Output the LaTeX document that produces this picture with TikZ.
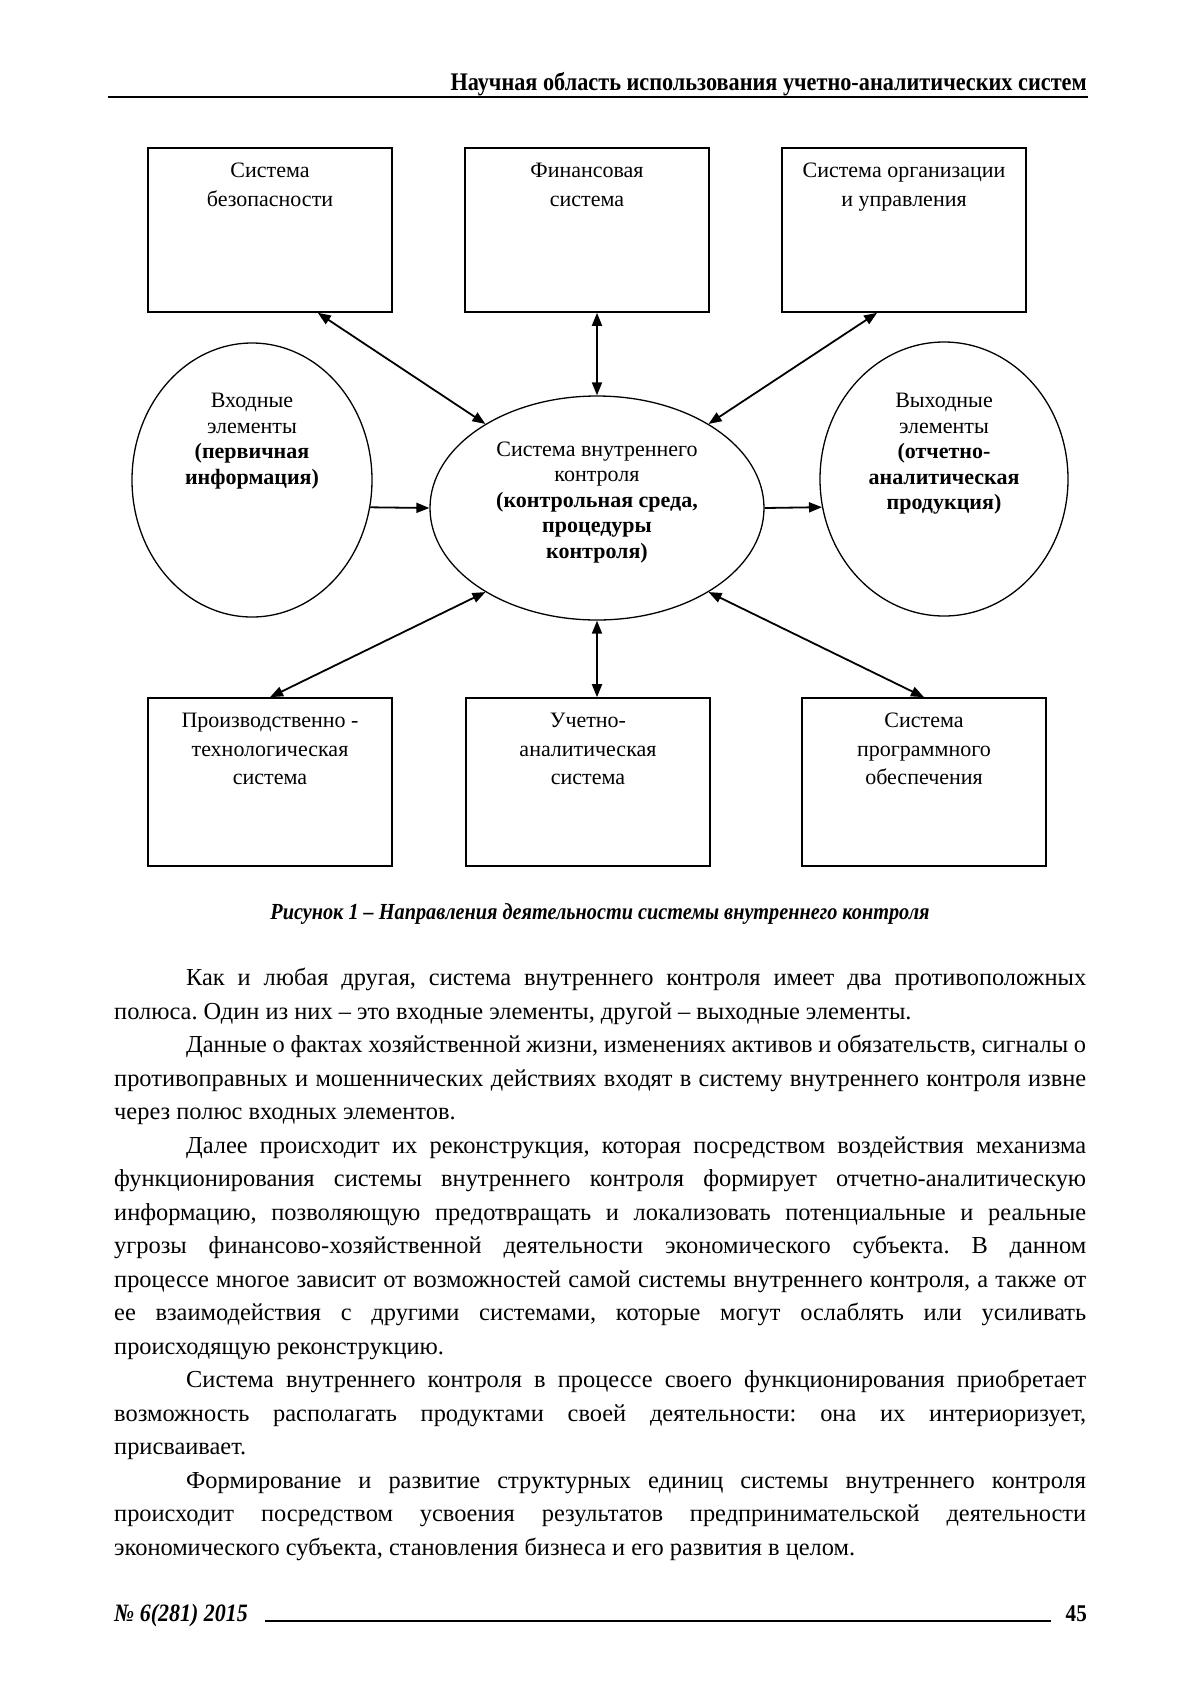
\documentclass[tikz,border=0pt]{standalone}
\usepackage{fontspec}
\setmainfont{Liberation Serif}
\newfontfamily\condfont[FakeStretch=0.88]{Liberation Serif}
\usetikzlibrary{shapes.geometric,arrows.meta,positioning}

\begin{document}
\begin{tikzpicture}[
  x=1pt, y=-1pt,
  font=\fontsize{22}{28}\selectfont,
  >={Triangle[length=13pt, width=10pt]},
  sysbox/.style={rectangle, draw, line width=1.6pt, minimum width=244pt, inner sep=0},
  pole/.style={ellipse, draw, line width=1.3pt, inner sep=0},
  boxtxt/.style={align=center, inner sep=0, font=\fontsize{22}{28.5}\selectfont},
  poletxt/.style={align=center, inner sep=0, font=\fontsize{22}{25.5}\selectfont},
  link/.style={<->, line width=1.8pt},
  flow/.style={->, line width=1.8pt},
  rule/.style={line width=2pt},
]

% page
\fill[white] (0,0) rectangle (1200,1698);
\useasboundingbox (0,0) rectangle (1200,1698);

% running head
\node[anchor=base east, inner sep=0, font=\condfont\bfseries\fontsize{25.3}{28}\selectfont] (head)
  at (1087,90) {Научная область использования учетно-аналитических систем};
\draw[rule] (108,97) -- (1088,97);

% surrounding systems
\node[sysbox, minimum height=164pt] (safe) at (270,230) {};
\node[sysbox, minimum height=164pt] (fin)  at (587,230) {};
\node[sysbox, minimum height=164pt] (org)  at (904,230) {};
\node[sysbox, minimum height=168pt] (prod) at (270,782) {};
\node[sysbox, minimum height=168pt] (acc)  at (588,782) {};
\node[sysbox, minimum height=168pt] (soft) at (924,782) {};

\node[boxtxt, below=16pt of safe.north] (safet) {Система\\безопасности};
\node[boxtxt, below=16pt of fin.north]  (fint)  {Финансовая\\система};
\node[boxtxt, below=16pt of org.north]  (orgt)  {Система организации\\и управления};
\node[boxtxt, below=16pt of prod.north] (prodt) {Производственно -\\технологическая\\система};
\node[boxtxt, below=16pt of acc.north]  (acct)  {Учетно-\\аналитическая\\система};
\node[boxtxt, below=16pt of soft.north] (softt) {Система\\программного\\обеспечения};

% poles and the control system
\node[pole, minimum width=240pt, minimum height=274pt] (inp) at (252,480) {};
\node[pole, minimum width=334pt, minimum height=224pt] (ce)  at (597,508) {};
\node[pole, minimum width=248pt, minimum height=274pt] (out) at (944,479) {};

\node[poletxt, below=51pt of inp.north] (inpt)
  {Входные\\элементы\\\textbf{(первичная}\\\textbf{информация)}};
\node[poletxt, below=46pt of ce.north] (cet)
  {Система внутреннего\\контроля\\\textbf{(контрольная среда,}\\\textbf{процедуры}\\\textbf{контроля)}};
\node[poletxt, below=52pt of out.north] (outt)
  {Выходные\\элементы\\\textbf{(отчетно-}\\\textbf{аналитическая}\\\textbf{продукция)}};

% links
\draw[link] (safe.-60) -- (ce.143);
\draw[link] (ce.north) -- (ce.north |- fin.south);
\draw[link] (org.-108) -- (ce.37);
\draw[link] (ce.217) -- (prod.north);
\draw[link] (ce.south) -- (ce.south |- acc.north);
\draw[link] (ce.323) -- (soft.north);
\draw[flow] (inp.-13) -- (ce.west);
\draw[flow] (ce.east) -- (out.193);

% caption
\node[anchor=base, inner sep=0, font=\condfont\bfseries\itshape\fontsize{23}{26}\selectfont] (cap)
  at (600,919) {Рисунок 1 – Направления деятельности системы внутреннего контроля};

% text
\node[anchor=north west, text width=972pt, align=justify, inner sep=0,
      font=\fontsize{24.4}{33.5}\selectfont] (body) at (114,968) {%
\frenchspacing\tolerance=10000\hyphenpenalty=10000
\hspace*{72pt}Как и любая другая, система внутреннего контроля имеет два противоположных\linebreak
полюса. Один из них – это входные элементы, другой – выходные элементы.\par
\hspace*{72pt}Данные о фактах хозяйственной жизни, изменениях активов и обязательств, сигналы о\linebreak
противоправных и мошеннических действиях входят в систему внутреннего контроля извне\linebreak
через полюс входных элементов.\par
\hspace*{72pt}Далее происходит их реконструкция, которая посредством воздействия механизма\linebreak
функционирования системы внутреннего контроля формирует отчетно-аналитическую\linebreak
информацию, позволяющую предотвращать и локализовать потенциальные и реальные\linebreak
угрозы финансово-хозяйственной деятельности экономического субъекта. В данном\linebreak
процессе многое зависит от возможностей самой системы внутреннего контроля, а также от\linebreak
ее взаимодействия с другими системами, которые могут ослаблять или усиливать\linebreak
происходящую реконструкцию.\par
\hspace*{72pt}Система внутреннего контроля в процессе своего функционирования приобретает\linebreak
возможность располагать продуктами своей деятельности: она их интериоризует,\linebreak
присваивает.\par
\hspace*{72pt}Формирование и развитие структурных единиц системы внутреннего контроля\linebreak
происходит посредством усвоения результатов предпринимательской деятельности\linebreak
экономического субъекта, становления бизнеса и его развития в целом.};

% foot line
\node[anchor=base west, inner sep=0, font=\condfont\bfseries\itshape\fontsize{25}{28}\selectfont] (issue)
  at (114,1621) {№ 6(281) 2015};
\node[anchor=base east, inner sep=0, font=\condfont\bfseries\fontsize{24}{28}\selectfont] (page)
  at (1087,1621) {45};
\draw[rule] (265,1621) -- (1051,1621);

\end{tikzpicture}
\end{document}
